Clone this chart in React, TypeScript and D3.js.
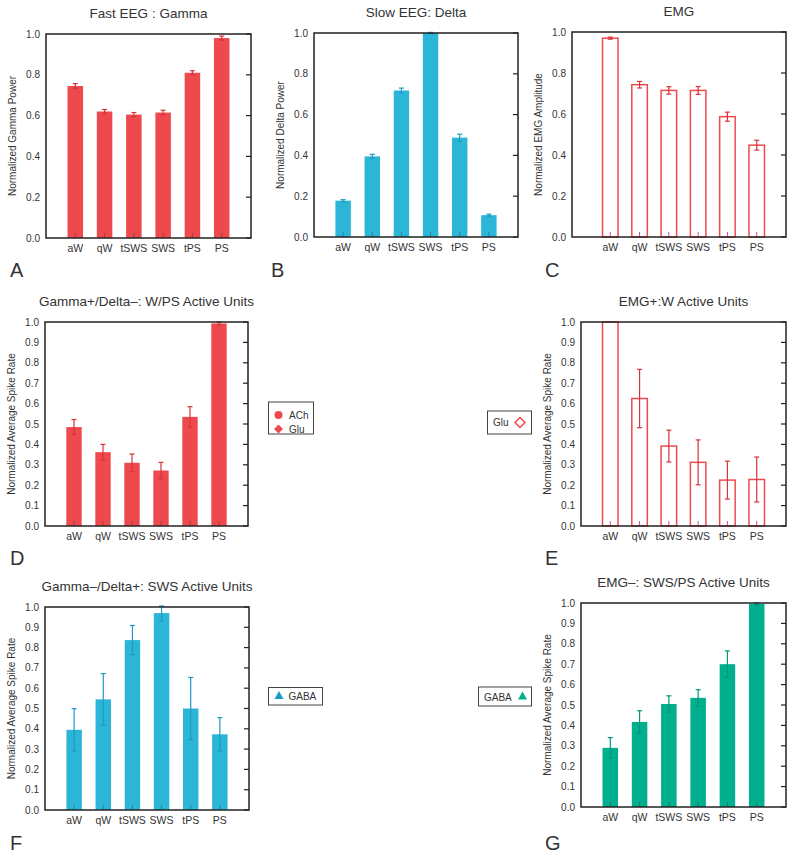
import React from 'react'
import * as d3 from 'd3'

const categories = ['aW', 'qW', 'tSWS', 'SWS', 'tPS', 'PS']

// values and sem
const gammaPower = [0.745, 0.62, 0.605, 0.615, 0.81, 0.98]
const gammaErr = [0.012, 0.01, 0.01, 0.011, 0.01, 0.01]
const deltaPower = [0.178, 0.395, 0.718, 1.0, 0.487, 0.107]
const deltaErr = [0.005, 0.01, 0.012, 0.003, 0.017, 0.005]
const emgAmp = [0.97, 0.743, 0.715, 0.715, 0.587, 0.448]
const emgErr = [0.005, 0.016, 0.018, 0.019, 0.022, 0.024]
const wpsRate = [0.485, 0.362, 0.31, 0.272, 0.535, 0.993]
const wpsErr = [0.037, 0.038, 0.043, 0.04, 0.05, 0.007]
const emgWRate = [1.0, 0.625, 0.392, 0.312, 0.225, 0.228]
const emgWErr = [0, 0.143, 0.078, 0.11, 0.093, 0.11]
const swsRate = [0.395, 0.545, 0.837, 0.97, 0.5, 0.373]
const swsErr = [0.104, 0.127, 0.072, 0.038, 0.153, 0.082]
const emgNegRate = [0.29, 0.417, 0.505, 0.535, 0.7, 0.995]
const emgNegErr = [0.05, 0.055, 0.04, 0.04, 0.065, 0.005]

const ticks5 = [0, 0.2, 0.4, 0.6, 0.8, 1.0]
const ticks10 = [0, 0.1, 0.2, 0.3, 0.4, 0.5, 0.6, 0.7, 0.8, 0.9, 1.0]

const RED = '#ee4a4e'
const RED_DARK = '#d6343a'
const BLUE = '#2bb6d8'
const BLUE_DARK = '#1d9ac4'
const GREEN = '#00af8e'
const GREEN_DARK = '#00977a'
const TXT = '#333'
const FONT = 'Liberation Sans, Arial, Helvetica, sans-serif'

const panels = [
    { letter: 'A', title: 'Fast EEG : Gamma', ylabel: 'Normalized Gamma Power', values: gammaPower, err: gammaErr, ticks: ticks5,
      fill: RED, errColor: RED_DARK, outline: false, box: { l: 46, r: 251, t: 34, b: 238 }, off: 0, letterPos: [10, 277] },
    { letter: 'B', title: 'Slow EEG: Delta', ylabel: 'Normalized Delta Power', values: deltaPower, err: deltaErr, ticks: ticks5,
      fill: BLUE, errColor: BLUE_DARK, outline: false, box: { l: 314, r: 518, t: 33, b: 237 }, off: 0, letterPos: [271, 277] },
    { letter: 'C', title: 'EMG', ylabel: 'Normalized EMG Amplitude', values: emgAmp, err: emgErr, ticks: ticks5,
      fill: RED, errColor: RED_DARK, outline: true, box: { l: 572, r: 786, t: 32, b: 237 }, off: 9, letterPos: [545, 277] },
    { letter: 'D', title: 'Gamma+/Delta\u2013: W/PS Active Units', ylabel: 'Normalized Average Spike Rate', values: wpsRate, err: wpsErr, ticks: ticks10,
      fill: RED, errColor: RED_DARK, outline: false, box: { l: 45, r: 248, t: 322, b: 526 }, off: 0, letterPos: [10, 565] },
    { letter: 'E', title: 'EMG+:W Active Units', ylabel: 'Normalized Average Spike Rate', values: emgWRate, err: emgWErr, ticks: ticks10,
      fill: RED, errColor: RED_DARK, outline: true, box: { l: 581, r: 786, t: 322, b: 526 }, off: 0, letterPos: [545, 565] },
    { letter: 'F', title: 'Gamma\u2013/Delta+: SWS Active Units', ylabel: 'Normalized Average Spike Rate', values: swsRate, err: swsErr, ticks: ticks10,
      fill: BLUE, errColor: BLUE_DARK, outline: false, box: { l: 45, r: 249, t: 607, b: 810 }, off: 0, letterPos: [10, 850] },
    { letter: 'G', title: 'EMG\u2013: SWS/PS Active Units', ylabel: 'Normalized Average Spike Rate', values: emgNegRate, err: emgNegErr, ticks: ticks10,
      fill: GREEN, errColor: GREEN_DARK, outline: false, box: { l: 581, r: 786, t: 603, b: 807 }, off: 0, letterPos: [545, 850] },
]

const Panel = ({ p }) => {
    const { l, r, t, b } = p.box
    const x = d3.scalePoint().domain(categories).range([l + p.off, r]).padding(1)
    const y = d3.scaleLinear().domain([0, 1]).range([b, t])
    const bw = x.step() * 0.53
    const cap = 2.5
    return (
        <g fontFamily={FONT}>
            <text x={(l + r) / 2} y={t - 16} fontSize={13.5} textAnchor="middle" fill={TXT}>{p.title}</text>
            {/* bars */}
            {p.values.map((v, i) => {
                const cx = x(categories[i])
                const top = y(v)
                return (
                    <rect key={i} x={cx - bw / 2} y={top} width={bw} height={b - top}
                        fill={p.outline ? 'none' : p.fill}
                        stroke={p.outline ? p.fill : 'none'} strokeWidth={1.5} />
                )
            })}
            {/* error bars */}
            {p.values.map((v, i) => {
                const e = p.err[i]
                if (!e) return null
                const cx = x(categories[i])
                const y1 = y(Math.min(v + e, 1.005))
                const y2 = y(v - e)
                return (
                    <g key={i} stroke={p.errColor} strokeWidth={1.2}>
                        <line x1={cx} x2={cx} y1={y1} y2={y2} />
                        <line x1={cx - cap} x2={cx + cap} y1={y1} y2={y1} />
                        <line x1={cx - cap} x2={cx + cap} y1={y2} y2={y2} />
                    </g>
                )
            })}
            {/* inner x ticks */}
            {categories.map(c => (
                <line key={c} x1={x(c)} x2={x(c)} y1={b} y2={b - 5}
                    stroke={p.outline ? '#c2207a' : '#222'} strokeOpacity={p.outline ? 0.8 : 0.35} strokeWidth={1} />
            ))}
            {/* frame */}
            <rect x={l} y={t} width={r - l} height={b - t} fill="none" stroke="#222" strokeWidth={1.5} />
            {/* y ticks */}
            {p.ticks.map(tk => (
                <g key={tk}>
                    <line x1={r} x2={r - 5} y1={y(tk)} y2={y(tk)} stroke="#222" strokeWidth={1.2} />
                    <text x={l - 6} y={y(tk)} dy="0.35em" fontSize={10} textAnchor="end" fill={TXT}>{tk.toFixed(1)}</text>
                </g>
            ))}
            {categories.map(c => (
                <text key={c} x={x(c)} y={b + 14} fontSize={10.5} textAnchor="middle" fill={TXT}>{c}</text>
            ))}
            <text transform={`translate(${l - 30},${(t + b) / 2}) rotate(-90)`} fontSize={10} textAnchor="middle" fill={TXT}>{p.ylabel}</text>
            <text x={p.letterPos[0]} y={p.letterPos[1]} fontSize={20} fill={TXT}>{p.letter}</text>
        </g>
    )
}

const diamond = (cx, cy, s) => `M${cx},${cy - s}L${cx + s},${cy}L${cx},${cy + s}L${cx - s},${cy}Z`
const triangle = (cx, cy, s) => `M${cx},${cy - s}L${cx + s},${cy + s * 0.8}L${cx - s},${cy + s * 0.8}Z`

const App = () => {
    return (
        <svg width={794} height={859} style={{ position: 'absolute', left: 0, top: 0, background: '#fff' }}>
            {panels.map(p => <Panel key={p.letter} p={p} />)}

            {/* legends */}
            <g fontFamily={FONT} fontSize={10} fill={TXT}>
                <rect x={268.5} y={402} width={45} height={32} fill="#fff" stroke="#444" strokeWidth={1} />
                <circle cx={278.5} cy={415} r={4} fill={RED} />
                <text x={289} y={418.5}>ACh</text>
                <path d={diamond(278.5, 429, 4.5)} fill={RED} />
                <text x={289} y={432.5}>Glu</text>

                <rect x={487.5} y={411} width={44} height={23} fill="#fff" stroke="#444" strokeWidth={1} />
                <text x={493} y={426}>Glu</text>
                <path d={diamond(520, 422.5, 5)} fill="none" stroke={RED} strokeWidth={1.5} />

                <rect x={268.5} y={687.5} width={54} height={17.5} fill="#fff" stroke="#444" strokeWidth={1} />
                <path d={triangle(279, 695.5, 4.5)} fill={BLUE_DARK} />
                <text x={288.5} y={700}>GABA</text>

                <rect x={478.5} y={687} width={53} height={19} fill="#fff" stroke="#444" strokeWidth={1} />
                <text x={484} y={700.5}>GABA</text>
                <path d={triangle(522.5, 696, 4.5)} fill={GREEN} />
            </g>
        </svg>
    )
}

export default App
